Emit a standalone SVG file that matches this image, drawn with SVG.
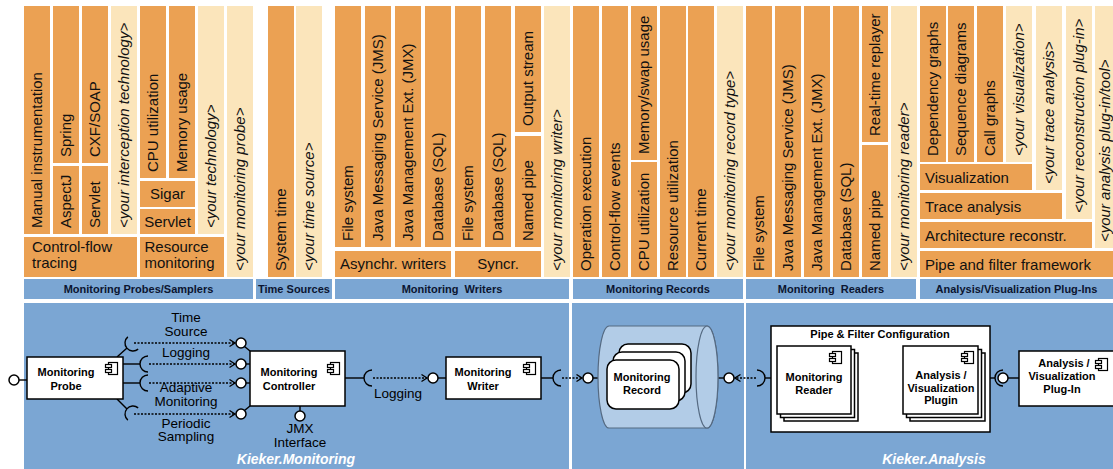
<svg xmlns="http://www.w3.org/2000/svg" xmlns:xlink="http://www.w3.org/1999/xlink" width="1113" height="469" viewBox="0 0 1113 469">
<style>
.o{fill:#EBA153}
.l{fill:#FBE5BB}
.h{fill:#7BA6D3}
.t{font-family:"Liberation Sans",Arial,sans-serif;font-size:15px;fill:#111}
.i{font-style:italic}
.m{text-anchor:middle}
.hd{font-family:"Liberation Sans",Arial,sans-serif;font-weight:bold;font-size:11px;fill:#0B1530;text-anchor:middle;white-space:pre}
.bx{fill:#fff;stroke:#000;stroke-width:1.5}
.bt{font-family:"Liberation Sans",Arial,sans-serif;font-weight:bold;font-size:11px;fill:#000;text-anchor:middle}
.lb{font-family:"Liberation Sans",Arial,sans-serif;font-size:13.5px;fill:#000;text-anchor:middle}
.kk{font-family:"Liberation Sans",Arial,sans-serif;font-weight:bold;font-style:italic;font-size:14px;fill:#fff}
.cn{stroke:#000;stroke-width:1.4;fill:none}
.dt{stroke:#000;stroke-width:1.5;stroke-dasharray:2 1.5;fill:none;marker-end:url(#ah)}
.lp{fill:#fff;stroke:#000;stroke-width:1.5}
</style>
<defs>
<marker id="ah" markerUnits="userSpaceOnUse" markerWidth="8" markerHeight="9" viewBox="0 0 8 9" refX="6.5" refY="4.5" orient="auto">
<path d="M1,1 L6.5,4.5 L1,8" fill="none" stroke="#000" stroke-width="1.3"/>
</marker>
<g id="ci">
<rect x="3.5" y="0.5" width="9" height="12" fill="#fff" stroke="#000" stroke-width="1.2"/>
<rect x="0.5" y="2.5" width="6" height="3" fill="#fff" stroke="#000" stroke-width="1.2"/>
<rect x="0.5" y="7.5" width="6" height="3" fill="#fff" stroke="#000" stroke-width="1.2"/>
</g>
</defs>
<rect width="1113" height="469" fill="#fff"/>

<!-- Monitoring Probes/Samplers -->
<g id="probes">
<g id="p-manual"><rect class="o" x="24" y="6" width="26" height="228"/><text class="t" transform="translate(42,228) rotate(-90)">Manual instrumentation</text></g>
<g id="p-spring"><rect class="o" x="53" y="6" width="26" height="157"/><text class="t" transform="translate(71,157) rotate(-90)">Spring</text></g>
<g id="p-aspectj"><rect class="o" x="53" y="166" width="26" height="68"/><text class="t" transform="translate(71,228) rotate(-90)">AspectJ</text></g>
<g id="p-cxf"><rect class="o" x="82" y="6" width="26" height="157"/><text class="t" transform="translate(100,157) rotate(-90)">CXF/SOAP</text></g>
<g id="p-servlet"><rect class="o" x="82" y="166" width="26" height="68"/><text class="t" transform="translate(100,228) rotate(-90)">Servlet</text></g>
<g id="p-yint"><rect class="l" x="111" y="6" width="26" height="228"/><text class="t i" transform="translate(129,228) rotate(-90)">&lt;your interception technology&gt;</text></g>
<g id="p-cpu"><rect class="o" x="140" y="6" width="26" height="172"/><text class="t" transform="translate(158,172) rotate(-90)">CPU utilization</text></g>
<g id="p-mem"><rect class="o" x="169" y="6" width="26" height="172"/><text class="t" transform="translate(187,172) rotate(-90)">Memory usage</text></g>
<g id="p-sigar"><rect class="o" x="140" y="181" width="55" height="26"/><text class="t m" x="167.5" y="199">Sigar</text></g>
<g id="p-servlet2"><rect class="o" x="140" y="209" width="55" height="25"/><text class="t m" x="167.5" y="227">Servlet</text></g>
<g id="p-ytech"><rect class="l" x="198" y="6" width="26" height="228"/><text class="t i" transform="translate(216,228) rotate(-90)">&lt;your technology&gt;</text></g>
<g id="p-cft"><rect class="o" x="24" y="237" width="113" height="40"/><text class="t" x="32" y="252">Control-flow<tspan x="32" y="268">tracing</tspan></text></g>
<g id="p-res"><rect class="o" x="140" y="237" width="84" height="40"/><text class="t" x="144.5" y="252">Resource<tspan x="144.5" y="268">monitoring</tspan></text></g>
<g id="p-yprobe"><rect class="l" x="227" y="6" width="26" height="271"/><text class="t i" transform="translate(245,271) rotate(-90)">&lt;your monitoring probe&gt;</text></g>
<g id="h-probes"><rect class="h" x="24" y="279" width="229" height="20"/><text class="hd" x="138.5" y="293">Monitoring Probes/Samplers</text></g>
</g>

<!-- Time Sources -->
<g id="time">
<g id="t-sys"><rect class="o" x="268" y="6" width="26" height="271"/><text class="t" transform="translate(286,271) rotate(-90)">System time</text></g>
<g id="t-your"><rect class="l" x="296" y="6" width="26" height="271"/><text class="t i" transform="translate(314,271) rotate(-90)">&lt;your time source&gt;</text></g>
<g id="h-time"><rect class="h" x="256" y="279" width="76" height="20"/><text class="hd" x="294" y="293">Time Sources</text></g>
</g>

<!-- Monitoring Writers -->
<g id="writers">
<g id="w-fs"><rect class="o" x="335" y="6" width="26" height="241"/><text class="t" transform="translate(353,241) rotate(-90)">File system</text></g>
<g id="w-jms"><rect class="o" x="365" y="6" width="26" height="241"/><text class="t" transform="translate(383,241) rotate(-90)">Java Messaging Service (JMS)</text></g>
<g id="w-jmx"><rect class="o" x="395" y="6" width="26" height="241"/><text class="t" transform="translate(413,241) rotate(-90)">Java Management Ext. (JMX)</text></g>
<g id="w-db"><rect class="o" x="425" y="6" width="26" height="241"/><text class="t" transform="translate(443,241) rotate(-90)">Database (SQL)</text></g>
<g id="w-fs2"><rect class="o" x="455" y="6" width="26" height="241"/><text class="t" transform="translate(473,241) rotate(-90)">File system</text></g>
<g id="w-db2"><rect class="o" x="485" y="6" width="26" height="241"/><text class="t" transform="translate(503,241) rotate(-90)">Database (SQL)</text></g>
<g id="w-out"><rect class="o" x="515" y="6" width="26" height="126"/><text class="t" transform="translate(533,126) rotate(-90)">Output stream</text></g>
<g id="w-pipe"><rect class="o" x="515" y="136" width="26" height="111"/><text class="t" transform="translate(533,241) rotate(-90)">Named pipe</text></g>
<g id="w-async"><rect class="o" x="335" y="251" width="116" height="26"/><text class="t m" x="393" y="269">Asynchr. writers</text></g>
<g id="w-sync"><rect class="o" x="455" y="251" width="86" height="26"/><text class="t m" x="498" y="269">Syncr.</text></g>
<g id="w-your"><rect class="l" x="544" y="6" width="26" height="271"/><text class="t i" transform="translate(562,271) rotate(-90)">&lt;your monitoring writer&gt;</text></g>
<g id="h-writers"><rect class="h" x="335" y="279" width="234" height="20"/><text class="hd" x="452" y="293">Monitoring  Writers</text></g>
</g>

<!-- Monitoring Records -->
<g id="records">
<g id="r-op"><rect class="o" x="573" y="6" width="26" height="271"/><text class="t" transform="translate(591,271) rotate(-90)">Operation execution</text></g>
<g id="r-cf"><rect class="o" x="602" y="6" width="26" height="271"/><text class="t" transform="translate(620,271) rotate(-90)">Control-flow events</text></g>
<g id="r-mem"><rect class="o" x="631" y="6" width="26" height="154"/><text class="t" transform="translate(649,154) rotate(-90)">Memory/swap usage</text></g>
<g id="r-cpu"><rect class="o" x="631" y="162" width="26" height="115"/><text class="t" transform="translate(649,271) rotate(-90)">CPU utilization</text></g>
<g id="r-res"><rect class="o" x="660" y="6" width="26" height="271"/><text class="t" transform="translate(678,271) rotate(-90)">Resource utilization</text></g>
<g id="r-time"><rect class="o" x="688" y="6" width="26" height="271"/><text class="t" transform="translate(706,271) rotate(-90)">Current time</text></g>
<g id="r-your"><rect class="l" x="717" y="6" width="26" height="271"/><text class="t i" transform="translate(735,271) rotate(-90)">&lt;your monitoring record type&gt;</text></g>
<g id="h-records"><rect class="h" x="573" y="279" width="170" height="20"/><text class="hd" x="658" y="293">Monitoring Records</text></g>
</g>

<!-- Monitoring Readers -->
<g id="readers">
<g id="rd-fs"><rect class="o" x="746" y="6" width="26" height="271"/><text class="t" transform="translate(764,271) rotate(-90)">File system</text></g>
<g id="rd-jms"><rect class="o" x="775" y="6" width="26" height="271"/><text class="t" transform="translate(793,271) rotate(-90)">Java Messaging Service (JMS)</text></g>
<g id="rd-jmx"><rect class="o" x="804" y="6" width="26" height="271"/><text class="t" transform="translate(822,271) rotate(-90)">Java Management Ext. (JMX)</text></g>
<g id="rd-db"><rect class="o" x="833" y="6" width="26" height="271"/><text class="t" transform="translate(851,271) rotate(-90)">Database (SQL)</text></g>
<g id="rd-rt"><rect class="o" x="862" y="6" width="26" height="136"/><text class="t" transform="translate(880,136) rotate(-90)">Real-time replayer</text></g>
<g id="rd-pipe"><rect class="o" x="862" y="145" width="26" height="132"/><text class="t" transform="translate(880,271) rotate(-90)">Named pipe</text></g>
<g id="rd-your"><rect class="l" x="891" y="6" width="26" height="271"/><text class="t i" transform="translate(909,271) rotate(-90)">&lt;your monitoring reader&gt;</text></g>
<g id="h-readers"><rect class="h" x="746" y="279" width="170" height="20"/><text class="hd" x="831" y="293">Monitoring  Readers</text></g>
</g>

<!-- Analysis/Visualization Plug-Ins -->
<g id="plugins">
<g id="a-dep"><rect class="o" x="920" y="6" width="26" height="156"/><text class="t" transform="translate(938,156) rotate(-90)">Dependency graphs</text></g>
<g id="a-seq"><rect class="o" x="948" y="6" width="26" height="156"/><text class="t" transform="translate(966,156) rotate(-90)">Sequence diagrams</text></g>
<g id="a-call"><rect class="o" x="977" y="6" width="26" height="156"/><text class="t" transform="translate(995,156) rotate(-90)">Call graphs</text></g>
<g id="a-yvis"><rect class="l" x="1006" y="6" width="26" height="156"/><text class="t i" transform="translate(1024,156) rotate(-90)">&lt;your visualization&gt;</text></g>
<g id="a-vis"><rect class="o" x="920" y="164" width="112" height="26"/><text class="t" x="925" y="182.5">Visualization</text></g>
<g id="a-ytrace"><rect class="l" x="1036" y="6" width="26" height="184"/><text class="t i" transform="translate(1054,184) rotate(-90)">&lt;your trace analysis&gt;</text></g>
<g id="a-trace"><rect class="o" x="920" y="193" width="142" height="26"/><text class="t" x="925" y="211.5">Trace analysis</text></g>
<g id="a-yrec"><rect class="l" x="1066" y="6" width="26" height="213"/><text class="t i" transform="translate(1084,213) rotate(-90)">&lt;your reconstruction plug-in&gt;</text></g>
<g id="a-arch"><rect class="o" x="920" y="222" width="172" height="26"/><text class="t" x="925" y="240.5">Architecture reconstr.</text></g>
<g id="a-ytool"><rect class="l" x="1095" y="6" width="26" height="242"/><text class="t i" transform="translate(1110,242) rotate(-90)">&lt;your analysis plug-in/tool&gt;</text></g>
<g id="a-pipe"><rect class="o" x="920" y="251" width="193" height="26"/><text class="t" x="925" y="269.5">Pipe and filter framework</text></g>
<g id="h-plugins"><rect class="h" x="920" y="279" width="193" height="20"/><text class="hd" x="1016.5" y="293">Analysis/Visualization Plug-Ins</text></g>
</g>

<!-- Bottom panels -->
<g id="panels">
<rect class="h" x="24" y="303" width="545" height="166"/>
<rect class="h" x="572" y="303" width="172" height="166"/>
<rect class="h" x="746" y="303" width="367" height="166"/>
<text class="kk" x="355" y="464" text-anchor="end">Kieker.Monitoring</text>
<text class="kk" x="934" y="464" text-anchor="middle">Kieker.Analysis</text>
</g>

<!-- Connectors -->
<g id="connectors">
<line class="cn" x1="19" y1="380" x2="27" y2="380"/>
<circle class="lp" cx="14" cy="380" r="5"/>

<line class="cn" x1="117" y1="357" x2="127" y2="348"/>
<path class="cn" transform="translate(133,343) rotate(-40)" d="M0,-8 A8,8 0 0 0 0,8"/>
<line class="dt" x1="134" y1="343" x2="235" y2="343"/>
<line class="cn" x1="244.5" y1="346.5" x2="250" y2="351"/>
<circle class="lp" cx="241" cy="343" r="5"/>

<line class="cn" x1="123" y1="364" x2="140" y2="364"/>
<path class="cn" d="M148,356 A8,8 0 0 0 148,372"/>
<line class="dt" x1="149" y1="364" x2="235" y2="364"/>
<line class="cn" x1="246" y1="364" x2="250" y2="364"/>
<circle class="lp" cx="241" cy="364" r="5"/>

<line class="cn" x1="123" y1="383" x2="140" y2="383"/>
<path class="cn" d="M148,375 A8,8 0 0 0 148,391"/>
<line class="dt" x1="149" y1="383" x2="235" y2="383"/>
<line class="cn" x1="246" y1="383" x2="250" y2="383"/>
<circle class="lp" cx="241" cy="383" r="5"/>

<line class="cn" x1="117" y1="399" x2="127" y2="409"/>
<path class="cn" transform="translate(133,414) rotate(40)" d="M0,-8 A8,8 0 0 0 0,8"/>
<line class="dt" x1="134" y1="414" x2="235" y2="414"/>
<line class="cn" x1="244.5" y1="410.5" x2="250" y2="406"/>
<circle class="lp" cx="241" cy="414" r="5"/>

<line class="cn" x1="300" y1="406" x2="300" y2="411"/>
<circle class="lp" cx="300" cy="416" r="5"/>

<line class="cn" x1="345" y1="378" x2="364" y2="378"/>
<path class="cn" d="M372,370 A8,8 0 0 0 372,386"/>
<line class="dt" x1="373" y1="378" x2="427" y2="378"/>
<line class="cn" x1="438" y1="378" x2="446" y2="378"/>
<circle class="lp" cx="433" cy="378" r="5"/>

<line class="cn" x1="541" y1="378" x2="553" y2="378"/>
<path class="cn" d="M561,370 A8,8 0 0 0 561,386"/>
<line class="dt" x1="562" y1="378" x2="582" y2="378"/>
<line class="cn" x1="593" y1="378" x2="598" y2="378"/>
<circle class="lp" cx="588" cy="378" r="5"/>

<line class="cn" x1="718" y1="378" x2="724" y2="378"/>
<circle class="lp" cx="729" cy="378" r="5"/>
<line class="dt" x1="756" y1="378" x2="735" y2="378"/>
<path class="cn" d="M757,370 A8,8 0 0 1 757,386"/>
<line class="cn" x1="765" y1="378" x2="771" y2="378"/>

<line class="cn" x1="858" y1="383" x2="867" y2="383"/>
<path class="cn" d="M874,376 A7,7 0 0 0 874,390"/>
<line class="dt" x1="875" y1="383" x2="886" y2="383"/>
<line class="cn" x1="895.5" y1="383" x2="903" y2="383"/>
<circle class="lp" cx="891" cy="383" r="4.5"/>
<path class="cn" d="M884,397 A7,7 0 0 0 898,397"/>
<line class="dt" x1="891" y1="396" x2="891" y2="388.5"/>
<polyline class="cn" points="891,404 891,408 903,408"/>

<line class="cn" x1="985" y1="378" x2="995" y2="378"/>
<path class="cn" d="M1003,370 A8,8 0 0 0 1003,386"/>
<line class="cn" x1="1008" y1="378" x2="1019" y2="378"/>
<circle class="lp" cx="1003" cy="378" r="5"/>
</g>

<!-- Connector labels -->
<g id="labels">
<text class="lb" x="186" y="322">Time</text>
<text class="lb" x="186" y="336">Source</text>
<text class="lb" x="186" y="357">Logging</text>
<text class="lb" x="186" y="392">Adaptive</text>
<text class="lb" x="186" y="406">Monitoring</text>
<text class="lb" x="186" y="428">Periodic</text>
<text class="lb" x="186" y="441">Sampling</text>
<text class="lb" x="300" y="433">JMX</text>
<text class="lb" x="300" y="447">Interface</text>
<text class="lb" x="398" y="398">Logging</text>
</g>

<!-- Nodes -->
<g id="monitoring-probe">
<rect class="bx" x="27" y="357" width="96" height="42"/>
<use xlink:href="#ci" href="#ci" x="105" y="362"/>
<text class="bt" x="66" y="376">Monitoring</text>
<text class="bt" x="66" y="390">Probe</text>
</g>

<g id="monitoring-controller">
<rect class="bx" x="250" y="351" width="95" height="55"/>
<use xlink:href="#ci" href="#ci" x="327" y="362"/>
<text class="bt" x="289" y="376">Monitoring</text>
<text class="bt" x="289" y="390">Controller</text>
</g>

<g id="monitoring-writer">
<rect class="bx" x="446" y="357" width="95" height="42"/>
<use xlink:href="#ci" href="#ci" x="523" y="362"/>
<text class="bt" x="483" y="376">Monitoring</text>
<text class="bt" x="483" y="390">Writer</text>
</g>

<g id="record-store">
<path d="M609,326 L707,326 A11,51 0 0 1 707,428 L609,428 A11,51 0 0 1 609,326 Z" fill="#B2CCE7" stroke="#556A82" stroke-width="1.2"/>
<ellipse cx="707" cy="377" rx="11" ry="51" fill="#B2CCE7" stroke="#556A82" stroke-width="1.2"/>
</g>

<g id="monitoring-record">
<rect class="bx" x="619" y="344" width="72" height="49" rx="9"/>
<rect class="bx" x="613" y="352" width="72" height="49" rx="9"/>
<rect class="bx" x="607" y="360" width="72" height="49" rx="9"/>
<text class="bt" x="642" y="381">Monitoring</text>
<text class="bt" x="642" y="394">Record</text>
</g>

<g id="pipe-filter-config">
<rect class="bx" x="771" y="326" width="219" height="106"/>
<text class="bt" x="880" y="338" font-size="10">Pipe &amp; Filter Configuration</text>
</g>

<g id="monitoring-reader">
<rect class="bx" x="784" y="353" width="74" height="68"/>
<rect class="bx" x="780.5" y="349.5" width="74" height="68"/>
<rect class="bx" x="777" y="346" width="74" height="68"/>
<use xlink:href="#ci" href="#ci" x="829" y="351"/>
<text class="bt" x="814" y="381">Monitoring</text>
<text class="bt" x="814" y="394">Reader</text>
</g>

<g id="analysis-plugin">
<rect class="bx" x="910" y="353" width="75" height="68"/>
<rect class="bx" x="906.5" y="349.5" width="75" height="68"/>
<rect class="bx" x="903" y="346" width="75" height="68"/>
<use xlink:href="#ci" href="#ci" x="961" y="351"/>
<text class="bt" x="941" y="379">Analysis /</text>
<text class="bt" x="941" y="391.5">Visualization</text>
<text class="bt" x="941" y="404">Plugin</text>
</g>

<g id="analysis-plug-in">
<rect class="bx" x="1019" y="351" width="110" height="55"/>
<use xlink:href="#ci" href="#ci" x="1095" y="358"/>
<text class="bt" x="1064" y="367">Analysis /</text>
<text class="bt" x="1062" y="380">Visualization</text>
<text class="bt" x="1062" y="393">Plug-In</text>
</g>
</svg>
